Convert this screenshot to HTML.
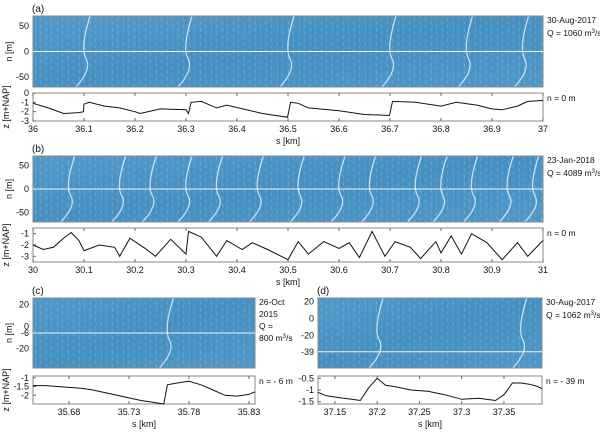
<!DOCTYPE html>
<html><head><meta charset="utf-8"><style>
body{margin:0;background:#fff}
svg{display:block;font-family:"Liberation Sans",sans-serif}
</style></head><body>
<svg id="fig" width="600" height="434" viewBox="0 0 600 434">
<defs>
<linearGradient id="mapg" x1="0" y1="0" x2="1" y2="1">
<stop offset="0" stop-color="#5199c9"/><stop offset="0.5" stop-color="#4690c3"/><stop offset="1" stop-color="#4f98c8"/>
</linearGradient>
<pattern id="rip" width="11" height="7" patternUnits="userSpaceOnUse">
<path d="M2 0 L3 4" stroke="#a9d0ea" stroke-width="0.7" opacity="0.45"/>
<path d="M7 3 L8 7" stroke="#a9d0ea" stroke-width="0.7" opacity="0.35"/>
<path d="M4 1 L5 5" stroke="#1f6a9a" stroke-width="0.6" opacity="0.25"/>
</pattern>
</defs>
<g id="root"></g>
</svg>
<script>
// Panel (a)
const aS = [36,36.03,36.06,36.09,36.099,36.1,36.11,36.14,36.17,36.2,36.21,36.25,36.3,36.305,36.31,36.33,36.36,36.38,36.45,36.499,36.505,36.52,36.54,36.6,36.65,36.699,36.705,36.75,36.8,36.83,36.87,36.9,36.92,36.95,36.97,37];
const aZ = [-1.1,-1.6,-2.2,-2.1,-2.0,-1.2,-1.0,-1.4,-1.6,-2.0,-2.2,-1.7,-1.8,-2.2,-1.0,-0.9,-1.6,-1.3,-2.2,-2.6,-1.0,-1.1,-1.6,-1.9,-2.3,-2.4,-0.9,-1.0,-1.4,-1.0,-1.3,-1.7,-1.8,-1.4,-0.9,-0.8];
const aCrests = [36.1,36.3,36.5,36.7,36.85,36.96];
// Panel (b)
const bS = [30,30.02,30.04,30.06,30.075,30.09,30.1,30.13,30.16,30.17,30.19,30.22,30.24,30.27,30.3,30.305,30.33,30.36,30.38,30.41,30.43,30.46,30.5,30.52,30.54,30.57,30.6,30.62,30.64,30.665,30.69,30.71,30.74,30.76,30.79,30.8,30.82,30.84,30.86,30.89,30.92,30.95,30.97,31];
const bZ = [-2.0,-2.4,-2.2,-1.4,-0.9,-1.6,-2.5,-2.0,-2.2,-3.0,-1.4,-2.3,-3.0,-1.5,-2.8,-0.8,-1.3,-3.0,-1.6,-2.4,-1.8,-2.4,-3.3,-1.7,-2.8,-1.7,-2.3,-1.8,-3.1,-0.8,-3.0,-1.7,-2.2,-3.2,-1.7,-2.7,-1.2,-2.8,-1.0,-1.8,-3.3,-1.8,-3.0,-1.6];
const bCrests = [30.07,30.17,30.23,30.3,30.36,30.44,30.52,30.6,30.66,30.75,30.8,30.86,30.93,30.98];
// Panel (c)
const cS = [35.65,35.66,35.67,35.68,35.69,35.7,35.71,35.72,35.73,35.74,35.75,35.759,35.762,35.77,35.78,35.79,35.8,35.81,35.82,35.83,35.835];
const cZ = [-1.45,-1.45,-1.5,-1.55,-1.6,-1.7,-1.85,-2.0,-2.15,-2.3,-2.4,-2.5,-1.4,-1.3,-1.2,-1.4,-1.7,-2.0,-2.05,-1.95,-1.8];
const cCrests = [35.762];
// Panel (d)
const dS = [37.13,37.14,37.15,37.16,37.17,37.18,37.19,37.2,37.21,37.22,37.24,37.26,37.28,37.3,37.32,37.34,37.35,37.36,37.37,37.38,37.39,37.395];
const dZ = [-1.1,-1.25,-1.3,-1.35,-1.4,-1.45,-0.9,-0.5,-0.8,-0.85,-1.0,-1.05,-1.2,-1.4,-1.35,-1.45,-1.2,-0.7,-0.7,-0.75,-0.85,-0.95];
const dCrests = [37.2,37.37];

const NS="http://www.w3.org/2000/svg";
const root=document.getElementById('root');
function mk(tag,attrs,parent){const e=document.createElementNS(NS,tag);for(const k in attrs)e.setAttribute(k,attrs[k]);(parent||root).appendChild(e);return e;}
function txt(x,y,s,anchor,size,parent,rot){const t=mk('text',{x:x,y:y,'font-size':size||9,'text-anchor':anchor||'start',fill:'#111'},parent);if(rot)t.setAttribute('transform',`rotate(-90 ${x} ${y})`);t.innerHTML=s;return t;}

function panel(p){
  const g=mk('g',{});
  
  
  const sx=v=>p.x0+(v-p.s0)/(p.s1-p.s0)*(p.x1-p.x0);
  const m=mk('rect',{x:p.x0,y:p.mt,width:p.x1-p.x0,height:p.mb-p.mt,fill:'url(#mapg)'},g);
  
  
  mk('rect',{x:p.x0,y:p.mt,width:p.x1-p.x0,height:p.mb-p.mt,fill:'url(#rip)'},g);
  p.crests.forEach(c=>{
    const x=sx(c);const h=p.mb-p.mt;
    const cr=mk('path',{d:`M${x+6} ${p.mt} Q${x-4} ${p.mt+h*0.45} ${x+2} ${p.mt+h*0.6} T${x-8} ${p.mb}`,stroke:'#e8f3fa',fill:'none','stroke-width':1.3,opacity:0.8},g);
    
    
  });
  mk('rect',{x:p.x0,y:p.mt,width:p.x1-p.x0,height:p.mb-p.mt,fill:'none',stroke:'#888','stroke-width':1},g);
  const ly=p.mt+(p.lineN-p.n0)/(p.n1-p.n0)*(p.mb-p.mt);
  const wl=mk('line',{x1:p.x0,x2:p.x1,y1:ly,y2:ly,stroke:'#fff','stroke-width':1,opacity:0.9},g);
  
  
  p.nTicks.forEach(t=>{const y=p.mt+(t[0]-p.n0)/(p.n1-p.n0)*(p.mb-p.mt);txt(p.x0-4,y+3,t[1],'end',9,g);});
  if(p.axisLabels) txt(p.x0-21,(p.mt+p.mb)/2,'n [m]','middle',9,g,true);
  txt(p.x0-1,p.mt-4,'('+p.id+')','start',10,g);
  const pr=mk('rect',{x:p.x0,y:p.pt,width:p.x1-p.x0,height:p.pb-p.pt,fill:'#fff',stroke:'#888','stroke-width':1},g);
  
  
  const sy=v=>p.pt+(p.z1-v)/(p.z1-p.z0)*(p.pb-p.pt);
  p.zTicks.forEach(t=>{const y=sy(t);txt(p.x0-4,y+3,String(t),'end',9,g);mk('line',{x1:p.x0,x2:p.x0+3,y1:y,y2:y,stroke:'#666'},g);});
  p.sTicks.forEach(t=>{const x=sx(t);mk('line',{x1:x,x2:x,y1:p.pb,y2:p.pb-3,stroke:'#666'},g);mk('line',{x1:x,x2:x,y1:p.pt,y2:p.pt+3,stroke:'#666'},g);txt(x,p.pb+11,String(t),'middle',9,g);});
  if(p.axisLabels) txt(p.x0-24,(p.pt+p.pb)/2,'z [m+NAP]','middle',9,g,true);
  let d='';p.S.forEach((s,i)=>{d+=(i?'L':'M')+sx(s).toFixed(1)+' '+sy(p.Z[i]).toFixed(1);});
  const ln=mk('path',{d:d,fill:'none',stroke:'#111','stroke-width':1},g);
  
  
  txt((p.x0+p.x1)/2,p.pb+23,'s [km]','middle',9,g);
  p.notes.forEach((n,i)=>txt(p.x1+4,p.mt+7+i*p.noteGap,n,'start',8.5,g));
  txt(p.x1+4,p.pt+8,p.nLabel,'start',8.5,g);
}
const sup='<tspan dy="-3" font-size="6">3</tspan><tspan dy="3">/s</tspan>';
panel({id:'a',axisLabels:true,x0:33,x1:543,mt:16,mb:87,pt:93,pb:121,s0:36,s1:37,n0:70,n1:-70,lineN:0,z0:-3,z1:0,noteGap:13,
 nTicks:[[50,'50'],[0,'0'],[-50,'-50']],zTicks:[0,-1,-2,-3],sTicks:[36,36.1,36.2,36.3,36.4,36.5,36.6,36.7,36.8,36.9,37],
 S:aS,Z:aZ,crests:aCrests,notes:['30-Aug-2017','Q = 1060 m'+sup],nLabel:'n = 0 m'});
panel({id:'b',axisLabels:true,x0:33,x1:543,mt:156,mb:222,pt:228,pb:262,s0:30,s1:31,n0:70,n1:-70,lineN:0,z0:-3.5,z1:-0.5,noteGap:13,
 nTicks:[[50,'50'],[0,'0'],[-50,'-50']],zTicks:[-1,-2,-3],sTicks:[30,30.1,30.2,30.3,30.4,30.5,30.6,30.7,30.8,30.9,31],
 S:bS,Z:bZ,crests:bCrests,notes:['23-Jan-2018','Q = 4089 m'+sup],nLabel:'n = 0 m'});
panel({id:'c',axisLabels:true,x0:33,x1:255,mt:298,mb:368,pt:376,pb:404,s0:35.65,s1:35.835,n0:26,n1:-38,lineN:-6,z0:-2.5,z1:-0.9,noteGap:12,
 nTicks:[[20,'20'],[0,'0'],[-6,'-6'],[-20,'-20']],zTicks:[-1,-1.5,-2],sTicks:[35.68,35.73,35.78,35.83],
 S:cS,Z:cZ,crests:cCrests,notes:['26-Oct','2015','Q =','800 m'+sup],nLabel:'n = - 6 m'});
panel({id:'d',axisLabels:false,x0:318,x1:542,mt:298,mb:368,pt:376,pb:404,s0:37.13,s1:37.395,n0:24,n1:-58,lineN:-39,z0:-1.6,z1:-0.4,noteGap:13,
 nTicks:[[20,'20'],[0,'0'],[-20,'-20'],[-39,'-39']],zTicks:[-0.5,-1,-1.5],sTicks:[37.15,37.2,37.25,37.3,37.35],
 S:dS,Z:dZ,crests:dCrests,notes:['30-Aug-2017','Q = 1062 m'+sup],nLabel:'n = - 39 m'});
</script>
</body></html>
